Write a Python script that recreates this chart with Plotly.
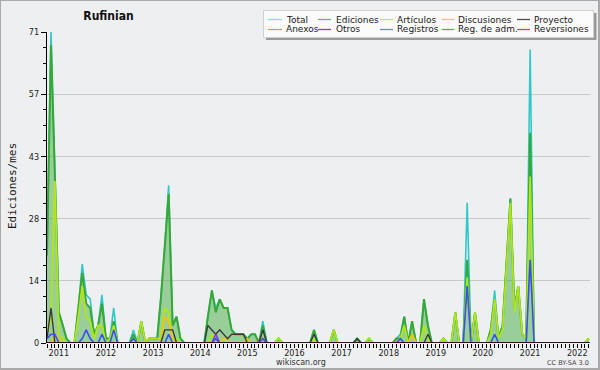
import plotly.graph_objects as go
import pandas as pd

# ---------------- data (monthly, Oct 2010 .. Apr 2022) ----------------
months = pd.date_range("2010-10-01", "2022-04-01", freq="MS").strftime("%Y-%m-%d").tolist()

total = [
    21, 71, 40,
    7, 4, 1, 0, 0, 8, 18, 11, 10, 2, 4, 11,
    1, 1, 8, 0, 0, 0, 0, 3, 0, 5, 0, 1,
    1, 1, 10, 22, 36, 4, 6, 1, 0, 0, 0, 0,
    0, 0, 6, 12, 8, 10, 8, 8, 3, 2, 2, 2,
    1, 2, 2, 0, 5, 0, 0, 0, 1, 0, 0, 0,
    0, 0, 0, 0, 0, 3, 0, 0, 0, 0, 3, 0,
    0, 0, 0, 0, 1, 0, 0, 1, 0, 0, 0, 0,
    0, 0, 1, 2, 6, 0, 5, 0, 0, 10, 4, 0,
    0, 0, 1, 0, 0, 7, 0, 0, 32, 0, 7, 0,
    0, 0, 3, 12, 1, 4, 18, 33, 8, 13, 2, 1,
    67, 0, 0, 0, 0, 0, 0, 0, 0, 0, 0, 0,
    0, 0, 0, 1,
]
ediciones = [
    20, 68, 38,
    7, 4, 1, 0, 0, 8, 16, 9, 8, 2, 4, 9,
    1, 1, 5, 0, 0, 0, 0, 2, 0, 5, 0, 1,
    1, 1, 10, 22, 34, 4, 6, 1, 0, 0, 0, 0,
    0, 0, 6, 12, 7, 10, 8, 8, 3, 2, 2, 2,
    1, 2, 2, 0, 4, 0, 0, 0, 1, 0, 0, 0,
    0, 0, 0, 0, 0, 3, 0, 0, 0, 0, 3, 0,
    0, 0, 0, 0, 1, 0, 0, 1, 0, 0, 0, 0,
    0, 0, 1, 1, 6, 0, 5, 0, 0, 10, 4, 0,
    0, 0, 1, 0, 0, 7, 0, 0, 19, 0, 7, 0,
    0, 0, 3, 10, 1, 4, 18, 33, 8, 13, 2, 1,
    48, 0, 0, 0, 0, 0, 0, 0, 0, 0, 0, 0,
    0, 0, 0, 1,
]
articulos = [
    3, 5, 37,
    2, 1, 0, 0, 0, 6, 13, 6, 5, 1, 4, 4,
    0, 1, 4, 0, 0, 0, 0, 1, 0, 5, 0, 1,
    1, 1, 1, 8, 7, 1, 1, 0, 0, 0, 0, 0,
    0, 0, 0, 2, 0, 0, 1, 0, 0, 0, 0, 0,
    0, 0, 0, 0, 1, 0, 0, 0, 1, 0, 0, 0,
    0, 0, 0, 0, 0, 1, 0, 0, 0, 0, 3, 0,
    0, 0, 0, 0, 0, 0, 0, 1, 0, 0, 0, 0,
    0, 0, 0, 1, 4, 0, 2, 0, 0, 4, 1, 0,
    0, 0, 1, 0, 0, 7, 0, 0, 15, 0, 7, 0,
    0, 0, 2, 10, 1, 3, 17, 32, 7, 13, 2, 1,
    38, 0, 0, 0, 0, 0, 0, 0, 0, 0, 0, 0,
    0, 0, 0, 1,
]
discusiones = [
    0, 0, 2,
    1, 0, 0, 0, 0, 0, 0, 0, 0, 0, 0, 0,
    0, 0, 0, 0, 0, 0, 0, 0, 0, 0, 0, 0,
    0, 0, 0, 6, 5, 1, 0, 0, 0, 0, 0, 0,
    0, 0, 0, 0, 0, 0, 1, 1, 0, 0, 0, 0,
    1, 0, 0, 0, 0, 0, 0, 0, 0, 0, 0, 0,
    0, 0, 0, 0, 0, 0, 0, 0, 0, 0, 0, 0,
    0, 0, 0, 0, 0, 0, 0, 0, 0, 0, 0, 0,
    0, 0, 0, 0, 0, 0, 2, 0, 0, 0, 0, 0,
    0, 0, 0, 0, 0, 0, 0, 0, 0, 0, 0, 0,
    0, 0, 0, 0, 0, 0, 0, 0, 0, 0, 0, 0,
    0, 0, 0, 0, 0, 0, 0, 0, 0, 0, 0, 0,
    0, 0, 0, 0,
]
proyecto = [
    1, 8, 0,
    0, 0, 0, 0, 0, 0, 0, 0, 0, 0, 0, 0,
    0, 0, 0, 0, 0, 0, 0, 0, 0, 0, 0, 0,
    0, 0, 0, 3, 3, 3, 0, 0, 0, 0, 0, 0,
    0, 0, 4, 3, 2, 3, 2, 1, 2, 2, 2, 2,
    0, 0, 0, 0, 3, 0, 0, 0, 0, 0, 0, 0,
    0, 0, 0, 0, 0, 2, 0, 0, 0, 0, 0, 0,
    0, 0, 0, 0, 1, 0, 0, 0, 0, 0, 0, 0,
    0, 0, 0, 0, 0, 0, 0, 0, 0, 0, 2, 0,
    0, 0, 0, 0, 0, 0, 0, 0, 0, 0, 0, 0,
    0, 0, 0, 0, 0, 0, 0, 0, 0, 0, 0, 0,
    0, 0, 0, 0, 0, 0, 0, 0, 0, 0, 0, 0,
    0, 0, 0, 0,
]
anexos = [
    0, 0, 0,
    0, 0, 0, 0, 0, 0, 0, 0, 0, 0, 0, 0,
    0, 0, 0, 0, 0, 0, 0, 0, 0, 0, 0, 0,
    0, 0, 0, 0, 0, 0, 0, 0, 0, 0, 0, 0,
    0, 0, 0, 0, 0, 0, 0, 0, 0, 0, 0, 0,
    0, 0, 0, 0, 0, 0, 0, 0, 0, 0, 0, 0,
    0, 0, 0, 0, 0, 0, 0, 0, 0, 0, 0, 0,
    0, 0, 0, 0, 0, 0, 0, 0, 0, 0, 0, 0,
    0, 0, 0, 0, 0, 0, 0, 0, 0, 0, 0, 0,
    0, 0, 0, 0, 0, 0, 0, 0, 0, 0, 0, 0,
    0, 0, 0, 0, 0, 0, 0, 0, 0, 0, 0, 0,
    0, 0, 0, 0, 0, 0, 0, 0, 0, 0, 0, 0,
    0, 0, 0, 0,
]
otros = [
    0, 0, 0,
    0, 0, 0, 0, 0, 0, 0, 0, 0, 0, 0, 0,
    0, 0, 0, 0, 0, 0, 0, 0, 0, 0, 0, 0,
    0, 0, 0, 0, 0, 0, 0, 0, 0, 0, 0, 0,
    0, 0, 0, 0, 2, 0, 0, 0, 0, 0, 0, 0,
    0, 0, 0, 0, 0, 0, 0, 0, 0, 0, 0, 0,
    0, 0, 0, 0, 0, 0, 0, 0, 0, 0, 0, 0,
    0, 0, 0, 0, 0, 0, 0, 0, 0, 0, 0, 0,
    0, 0, 0, 0, 0, 0, 0, 0, 0, 0, 0, 0,
    0, 0, 0, 0, 0, 0, 0, 0, 0, 0, 0, 0,
    0, 0, 0, 0, 0, 0, 0, 0, 0, 0, 0, 0,
    0, 0, 0, 0, 0, 0, 0, 0, 0, 0, 0, 0,
    0, 0, 0, 0,
]
registros = [
    1, 2, 2,
    0, 0, 0, 0, 0, 0, 1, 3, 1, 0, 0, 2,
    0, 0, 3, 0, 0, 0, 0, 1, 0, 0, 0, 0,
    0, 0, 0, 0, 2, 0, 0, 0, 0, 0, 0, 0,
    0, 0, 0, 0, 1, 0, 0, 0, 0, 0, 0, 0,
    0, 0, 0, 0, 1, 0, 0, 0, 0, 0, 0, 0,
    0, 0, 0, 0, 0, 0, 0, 0, 0, 0, 0, 0,
    0, 0, 0, 0, 0, 0, 0, 0, 0, 0, 0, 0,
    0, 0, 0, 1, 0, 0, 0, 0, 0, 0, 0, 0,
    0, 0, 0, 0, 0, 0, 0, 0, 13, 0, 0, 0,
    0, 0, 0, 2, 0, 0, 0, 0, 0, 0, 0, 0,
    19, 0, 0, 0, 0, 0, 0, 0, 0, 0, 0, 0,
    0, 0, 0, 0,
]
reg_adm = [
    0, 0, 0,
    0, 0, 0, 0, 0, 0, 0, 0, 0, 0, 0, 0,
    0, 0, 0, 0, 0, 0, 0, 0, 0, 0, 0, 0,
    0, 0, 0, 0, 0, 0, 0, 0, 0, 0, 0, 0,
    0, 0, 0, 0, 0, 0, 0, 0, 0, 0, 0, 0,
    0, 0, 0, 0, 0, 0, 0, 0, 0, 0, 0, 0,
    0, 0, 0, 0, 0, 0, 0, 0, 0, 0, 0, 0,
    0, 0, 0, 0, 0, 0, 0, 0, 0, 0, 0, 0,
    0, 0, 0, 0, 0, 0, 0, 0, 0, 0, 0, 0,
    0, 0, 0, 0, 0, 0, 0, 0, 0, 0, 0, 0,
    0, 0, 0, 0, 0, 0, 0, 0, 0, 0, 0, 0,
    0, 0, 0, 0, 0, 0, 0, 0, 0, 0, 0, 0,
    0, 0, 0, 0,
]
reversiones = [
    0, 0, 0,
    0, 0, 0, 0, 0, 0, 0, 0, 0, 0, 0, 0,
    0, 0, 0, 0, 0, 0, 0, 0, 0, 0, 0, 0,
    0, 0, 0, 0, 0, 0, 0, 0, 0, 0, 0, 0,
    0, 0, 0, 0, 0, 0, 0, 0, 0, 0, 0, 0,
    0, 0, 0, 0, 0, 0, 0, 0, 0, 0, 0, 0,
    0, 0, 0, 0, 0, 0, 0, 0, 0, 0, 0, 0,
    0, 0, 0, 0, 0, 0, 0, 0, 0, 0, 0, 0,
    0, 0, 0, 0, 0, 0, 0, 0, 0, 0, 0, 0,
    0, 0, 0, 0, 0, 0, 0, 0, 0, 0, 0, 0,
    0, 0, 0, 0, 0, 0, 0, 0, 0, 0, 0, 0,
    0, 0, 0, 0, 0, 0, 0, 0, 0, 0, 0, 0,
    0, 0, 0, 0,
]

year_labels = ["2011", "2012", "2013", "2014", "2015", "2016",
               "2017", "2018", "2019", "2020", "2021", "2022"]
y_tick_values = [0, 14.2, 28.4, 42.6, 56.8, 71]
y_tick_labels = ["0", "14", "28", "43", "57", "71"]

title_text = "Rufinian"
y_title = "Ediciones/mes"

# ---------------- styling ----------------
W, H = 600, 370
L, R, T, B = 47, 10, 32, 27
PW, PH = W - L - R, H - T - B
BG = "#eeeff1"
FONT = "DejaVu Sans"
FONT_C = "DejaVu Sans Condensed, DejaVu Sans"


def px(x):
    return (x - L) / PW


def py(y):
    return (H - B - y) / PH


series = [
    ("Total", total, "#30c8c8", 1.6),
    ("Ediciones", ediciones, "#36a836", 2.0),
    ("Artículos", articulos, "#b2e41a", 1.8),
    ("Discusiones", discusiones, "#f4c20d", 1.6),
    ("Proyecto", proyecto, "#3a3a3a", 1.4),
    ("Anexos", anexos, "#ff8a3a", 1.2),
    ("Otros", otros, "#8a30e0", 1.6),
    ("Registros", registros, "#3a4cf4", 1.6),
    ("Reg. de adm.", reg_adm, "#e040e0", 1.2),
    ("Reversiones", reversiones, "#ff3535", 1.2),
]

fig = go.Figure()
for name, vals, color, width in series:
    kw = {}
    if name == "Ediciones":
        kw = dict(fill="tozeroy", fillcolor="rgba(60,170,60,0.48)")
    fig.add_trace(go.Scatter(
        x=months, y=vals, mode="lines", name=name, showlegend=False,
        line=dict(color=color, width=width), **kw))

shapes = []
annotations = []

# black baseline drawn over the zero-valued lines
shapes.append(dict(type="line", xref="paper", yref="y",
                   x0=px(46), x1=1, y0=0, y1=0,
                   line=dict(color="#000000", width=1.6), layer="above"))

# ---- manual legend (box + samples + labels) ----
shapes.append(dict(type="rect", xref="paper", yref="paper",
                   x0=px(266), x1=px(596.5), y0=py(40), y1=py(13),
                   fillcolor="#9a9a9a", line=dict(width=0), layer="above"))
shapes.append(dict(type="rect", xref="paper", yref="paper",
                   x0=px(263.5), x1=px(593.5), y0=py(37.5), y1=py(10.5),
                   fillcolor="#fbfbfb", line=dict(color="#cfcfcf", width=1), layer="above"))
col_line_x = [(268, 282), (318, 331), (380, 393), (442, 454), (517, 530)]
col_text_x = [285, 335, 396, 457, 533]
row_y = [19.5, 29.5]
legend_colors = ["#7fe0e0", "#5cc05c", "#bff030", "#fcc840", "#505050",
                 "#ff8c40", "#8a3ae8", "#7080ff", "#e050e8", "#ff4040"]
for k, (name, _, color, _) in enumerate(series):
    r, c = divmod(k, 5)
    x0, x1 = col_line_x[c]
    shapes.append(dict(type="line", xref="paper", yref="paper",
                       x0=px(x0), x1=px(x1), y0=py(row_y[r]), y1=py(row_y[r]),
                       line=dict(color=legend_colors[k], width=1.3), layer="above"))
    annotations.append(dict(text=name, xref="paper", yref="paper",
                            x=px(col_text_x[c]), y=py(row_y[r]),
                            xanchor="left", yanchor="middle", showarrow=False,
                            borderpad=0,
                            font=dict(family=FONT, size=9, color="#1a1a1a")))

# outer frame
shapes.append(dict(type="rect", xref="paper", yref="paper",
                   x0=px(0), x1=px(599), y0=py(369), y1=py(0),
                   line=dict(color="#a9a9a9", width=2), layer="above"))

annotations.append(dict(text=y_title, xref="paper", yref="paper",
                        x=px(12), y=py(186), textangle=-90, showarrow=False,
                        xanchor="center", yanchor="middle",
                        font=dict(family="DejaVu Sans Mono", size=11, color="#1a1a1a")))
annotations.append(dict(text="wikiscan.org", xref="paper", yref="paper",
                        x=px(300.5), y=py(362.5), showarrow=False,
                        xanchor="center", yanchor="middle", borderpad=0,
                        font=dict(family=FONT, size=8, color="#333333")))
annotations.append(dict(text="CC BY-SA 3.0", xref="paper", yref="paper",
                        x=px(590), y=py(362.5), showarrow=False,
                        xanchor="right", yanchor="middle", borderpad=0,
                        font=dict(family=FONT, size=6.5, color="#444444")))

fig.update_layout(
    width=W, height=H,
    margin=dict(l=L, r=R, t=T, b=B, autoexpand=False),
    paper_bgcolor=BG, plot_bgcolor=BG,
    title=dict(text=title_text, xref="container", yref="container",
               x=108.5 / W, y=1 - 16 / H, xanchor="center", yanchor="middle",
               font=dict(family=FONT_C, size=12, color="#111111", weight="bold")),
    shapes=shapes, annotations=annotations,
    showlegend=False,
    xaxis=dict(
        type="date", range=["2010-10-01", "2022-04-10"],
        tickmode="array",
        tickvals=[f"{y}-01-01" for y in year_labels], ticktext=year_labels,
        ticks="outside", ticklen=4, tickwidth=1, tickcolor="#000",
        ticklabelstandoff=-3,
        showgrid=False, zeroline=False,
        showline=False,
        minor=dict(ticks="outside", ticklen=4, tickwidth=1, tickcolor="#000",
                   dtick="M1", tick0="2010-10-01", showgrid=False),
        tickfont=dict(family=FONT_C, size=9, color="#222222"),
        fixedrange=True,
    ),
    yaxis=dict(
        range=[0, 71], tickmode="array",
        tickvals=y_tick_values, ticktext=y_tick_labels,
        ticks="outside", ticklen=5, tickwidth=1, tickcolor="#000",
        showgrid=True, gridcolor="#c9c9c9", gridwidth=1,
        zeroline=False, showline=True, linecolor="#000", linewidth=1.2,
        layer="above traces",
        minor=dict(ticks="outside", ticklen=3, tickwidth=1, tickcolor="#000",
                   dtick=3.55, tick0=0, showgrid=False),
        tickfont=dict(family=FONT_C, size=9, color="#222222"),
        fixedrange=True,
    ),
)

fig.write_html("out.html", config={"displayModeBar": False})
